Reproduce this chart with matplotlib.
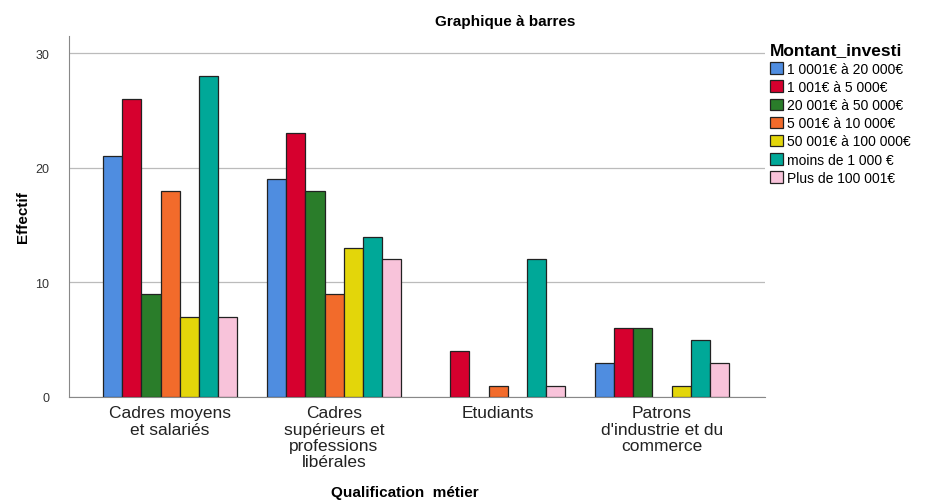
import numpy as np
import matplotlib.pyplot as plt
from matplotlib.patches import Patch

plt.rcParams['font.family'] = ['Liberation Sans', 'DejaVu Sans']

# categories and counts per investment bracket
categories = ["Cadres moyens\net salariés",
              "Cadres\nsupérieurs et\nprofessions\nlibérales",
              "Etudiants",
              "Patrons\nd'industrie et du\ncommerce"]
brackets = ["1 0001€ à 20 000€", "1 001€ à 5 000€", "20 001€ à 50 000€",
            "5 001€ à 10 000€", "50 001€ à 100 000€", "moins de 1 000 €",
            "Plus de 100 001€"]
counts = [
    [21, 19, 0, 3],
    [26, 23, 4, 6],
    [9, 18, 0, 6],
    [18, 9, 1, 0],
    [7, 13, 0, 1],
    [28, 14, 12, 5],
    [7, 12, 1, 3],
]
colors = ["#4F8DE0", "#D6002E", "#2A7D2A", "#F26B2B", "#E3D60A", "#00A898", "#F8C3DA"]

fig = plt.figure(figsize=(9.28, 5.02), dpi=100)
ax = fig.add_axes([69 / 928, 1 - 398 / 502, 696 / 928, 361 / 502])

x = np.arange(len(categories))
w = 0.116
for i, (vals, c) in enumerate(zip(counts, colors)):
    pos = x + (i - 3) * w
    vals = np.array(vals)
    keep = vals > 0
    ax.bar(pos[keep], vals[keep], width=w, color=c, edgecolor="#222222",
           linewidth=0.9, zorder=3)

ax.set_xlim(-0.616, 3.628)
ax.set_ylim(0, 31.5)
ax.set_yticks([0, 10, 20, 30])
ax.yaxis.grid(True, color="#BBBBBB", linewidth=0.9, zorder=0)
ax.tick_params(axis="y", length=0, labelsize=9, labelcolor="#333333", pad=14)
ax.tick_params(axis="x", length=0, labelsize=12.5, labelcolor="#222222", pad=6)
ax.set_xticks(x)
ax.set_xticklabels(categories, linespacing=1.1)

for s in ["top", "right"]:
    ax.spines[s].set_visible(False)
ax.spines["left"].set_color("#888888")
ax.spines["bottom"].set_color("#888888")

ax.set_ylabel("Effectif", fontsize=11, fontweight="bold", labelpad=4)
fig.text(405 / 928, 1 - 493 / 502, "Qualification  métier", ha="center",
         va="center", fontsize=11, fontweight="bold")
fig.text(505 / 928, 1 - 22 / 502, "Graphique à barres", ha="center",
         va="center", fontsize=11, fontweight="bold")

handles = [Patch(facecolor=c, edgecolor="#222222", linewidth=0.9) for c in colors]
leg = fig.legend(handles, brackets, loc="upper left",
                 bbox_to_anchor=(764 / 928, 1 - 38 / 502), frameon=False,
                 title="Montant_investi", fontsize=10, handlelength=1.0,
                 handleheight=0.9, handletextpad=0.25, labelspacing=0.3,
                 borderaxespad=0, alignment="left")
leg.get_title().set_fontsize(12.5)
leg.get_title().set_fontweight("bold")

fig.savefig("out.png", dpi=100)
